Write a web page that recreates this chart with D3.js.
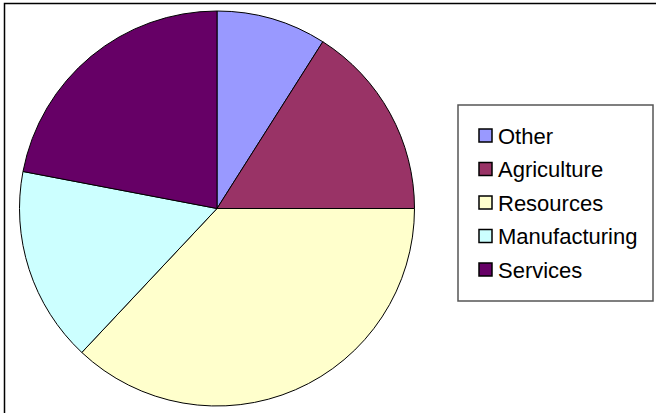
<!DOCTYPE html>
<html>
<head>
<meta charset="utf-8">
<script src="https://cdn.jsdelivr.net/npm/d3@7"></script>
<style>
html,body{margin:0;padding:0;background:#fff;}
svg{display:block;}
</style>
</head>
<body>
<svg id="chart" width="656" height="413"></svg>
<script>
const categories = ["Other", "Agriculture", "Resources", "Manufacturing", "Services"];
const values = [9, 16, 37, 16, 22];
const colors = ["#9999FF", "#993366", "#FFFFCC", "#CCFFFF", "#660066"];

const svg = d3.select("#chart");
const W = 656, H = 413;

// outer frame
svg.append("rect")
  .attr("x", 4.5).attr("y", 3.5)
  .attr("width", W + 10).attr("height", H + 10)
  .attr("fill", "#fff")
  .attr("stroke", "#000").attr("stroke-width", 1.5);

const cx = 217, cy = 208.5, r = 197.5;
const color = d3.scaleOrdinal().domain(categories).range(colors);
const pie = d3.pie().sort(null).value(d => d.v);
const data = categories.map((c, i) => ({c, v: values[i]}));
const arc = d3.arc().innerRadius(0).outerRadius(r);

const g = svg.append("g").attr("transform", `translate(${cx},${cy})`);
g.selectAll("path").data(pie(data)).enter().append("path")
  .attr("d", arc)
  .attr("fill", d => color(d.data.c))
  .attr("stroke", "#000").attr("stroke-width", 1);

// legend
const lg = svg.append("g");
lg.append("rect")
  .attr("x", 458).attr("y", 105)
  .attr("width", 195).attr("height", 196)
  .attr("fill", "#fff")
  .attr("stroke", "#555").attr("stroke-width", 1.5);

const ly = d3.scalePoint().domain(categories).range([136, 270]);
const items = lg.selectAll("g.item").data(categories).enter().append("g").attr("class", "item");
items.append("rect")
  .attr("x", 479).attr("y", d => ly(d) - 7)
  .attr("width", 13).attr("height", 13)
  .attr("fill", d => color(d))
  .attr("stroke", "#000").attr("stroke-width", 1.5);
items.append("text")
  .attr("x", 498).attr("y", d => ly(d) + 7.5)
  .attr("font-family", "Liberation Sans, Arial, sans-serif")
  .attr("font-size", 22)
  .attr("fill", "#000")
  .text(d => d);
</script>
</body>
</html>
